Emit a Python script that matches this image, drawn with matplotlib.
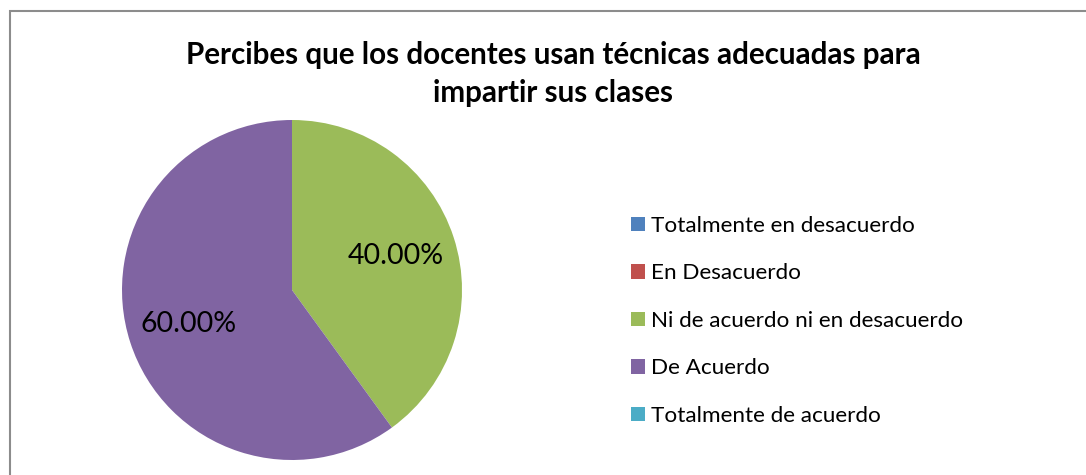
import matplotlib
matplotlib.use("Agg")
import matplotlib.pyplot as plt
from matplotlib.patches import Rectangle, Patch

categories = ["Totalmente en desacuerdo", "En Desacuerdo",
              "Ni de acuerdo ni en desacuerdo", "De Acuerdo",
              "Totalmente de acuerdo"]
values = [0, 0, 40, 60, 0]
colors = ["#4F81BD", "#C0504D", "#9BBB59", "#8064A2", "#4BACC6"]
title = "Percibes que los docentes usan técnicas adecuadas para\nimpartir sus clases"

W, H = 1086, 475
fig = plt.figure(figsize=(W / 100, H / 100), dpi=100)
fig.patch.set_facecolor("white")

# border (only top and left visible in reference)
fig.add_artist(Rectangle((9.5 / W, -0.1), 1.2, (H - 11.5) / H + 0.1,
                         transform=fig.transFigure, fill=False,
                         edgecolor="#8C8C8C", linewidth=1.5))

fam = ["Lato", "DejaVu Sans"]

ax = fig.add_axes([122 / W, 15 / H, 340 / W, 340 / H])
wedges, texts, autotexts = ax.pie(
    values, colors=colors, startangle=90, counterclock=False,
    autopct=lambda p: f"{p:.2f}%" if p > 0 else "",
    pctdistance=0.64, wedgeprops=dict(linewidth=0),
    textprops=dict(fontsize=20.5, family=fam, color="black"))
ax.set_aspect("equal")
ax.set_xlim(-1, 1)
ax.set_ylim(-1, 1)

fig.text(553 / W, 1 - 74 / H, title, ha="center", va="center",
         fontsize=21.3, fontweight="bold", family=fam, linespacing=1.42)

handles = [Patch(facecolor=c, edgecolor="none") for c in colors]
leg = fig.legend(handles, categories, loc="upper left",
                 bbox_to_anchor=(622 / W, 1 - 207 / H),
                 frameon=False, prop=dict(family=fam, size=16.2),
                 handlelength=0.6, handleheight=0.6, handletextpad=0.3,
                 labelspacing=1.22, borderaxespad=0)

fig.savefig("out.png", dpi=100)
